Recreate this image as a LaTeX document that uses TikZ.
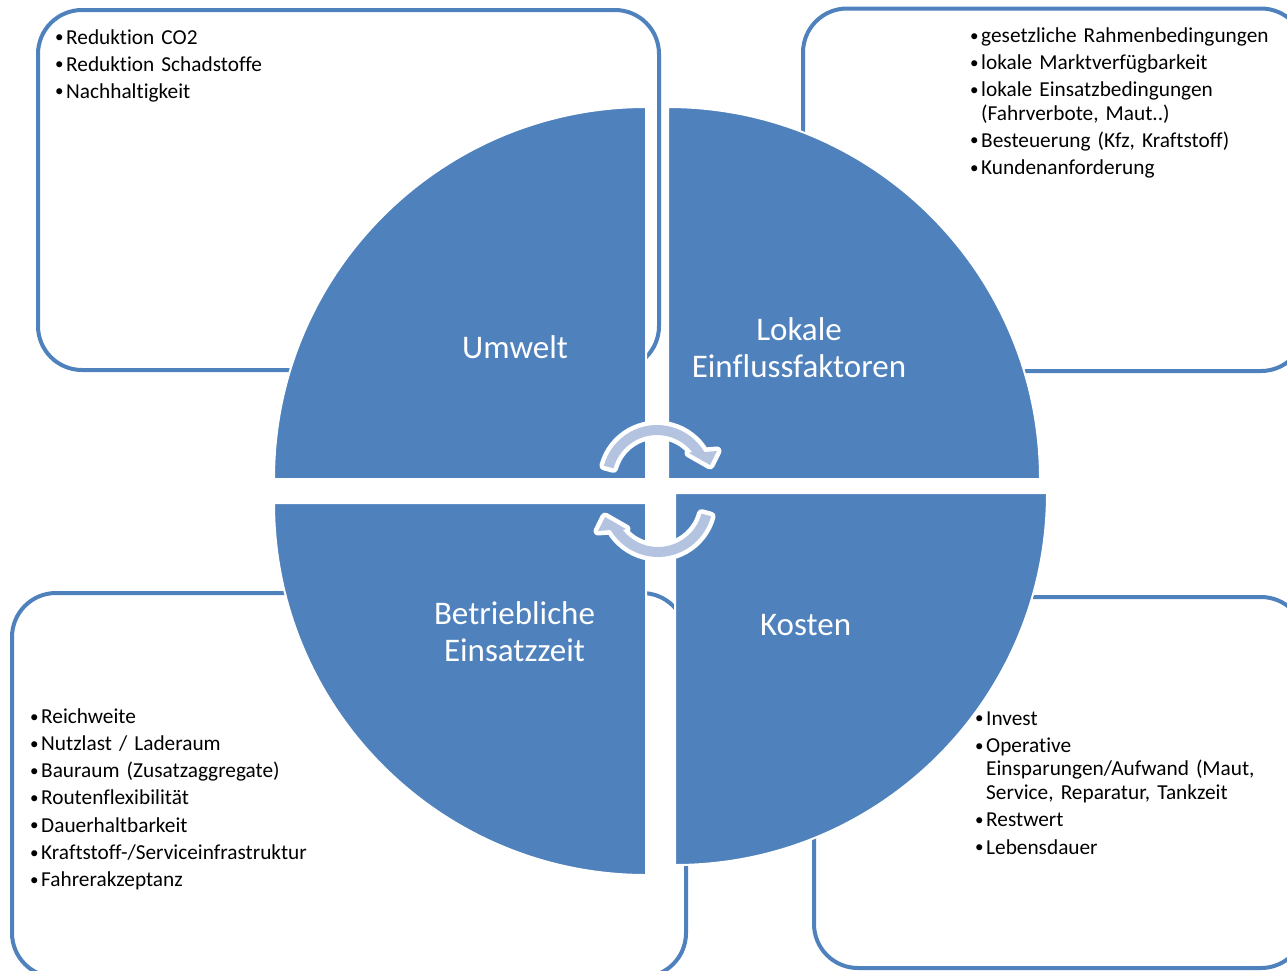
\documentclass[tikz,border=0pt]{standalone}
\usepackage{fontspec}
\setmainfont{Carlito}[Ligatures=NoCommon]
\usetikzlibrary{calc}
\definecolor{qblue}{HTML}{4F81BD}
\definecolor{arrowfill}{HTML}{B3C3E0}
\newcommand\bitem[1]{\makebox[12pt][l]{\hspace{1pt}\raisebox{1.3pt}{\scalebox{0.8}{•}}}#1}
\newcommand\hang{\hspace*{12pt}}
\begin{document}
\begin{tikzpicture}[x=1pt,y=-1pt,
  infobox/.style={draw=qblue,line width=4pt,fill=white,rounded corners=44pt,inner sep=0pt},
  bullets/.style={anchor=base west,inner sep=0pt,text width=420pt,align=left,font=\fontsize{21.3}{23.3}\selectfont},
  quad/.style={fill=qblue,draw=white,line width=2pt},
  qlabel/.style={anchor=base,inner sep=0pt,text width=320pt,align=center,text=white,font=\fontsize{33}{37}\selectfont},
  cyc/.style={fill=arrowfill,preaction={draw=white,line width=9pt,line join=round}}]
\useasboundingbox (0,0) rectangle (1287,970);
\clip (0,0) rectangle (1287,970);
% info boxes
\node[infobox,minimum width=621pt,minimum height=360pt] (boxTL) at (348.5,190) {};
\node[infobox,minimum width=502pt,minimum height=362.5pt] (boxTR) at (1054,189.75) {};
\node[infobox,minimum width=674pt,minimum height=384pt] (boxBL) at (349,785) {};
\node[infobox,minimum width=491pt,minimum height=371pt] (boxBR) at (1059.5,782.5) {};
% bullet texts
\node[bullets] (tTL) at (54,44) {\bitem{Reduktion CO2}\\[3.7pt]\bitem{Reduktion Schadstoffe}\\[3.7pt]\bitem{Nachhaltigkeit}};
\node[bullets] (tTR) at (969,42.3) {\bitem{gesetzliche Rahmenbedingungen}\\[3.9pt]\bitem{lokale Marktverfügbarkeit}\\[3.9pt]\bitem{lokale Einsatzbedingungen}\\\hang(Fahrverbote, Maut..)\\[3.9pt]\bitem{Besteuerung (Kfz, Kraftstoff)}\\[3.9pt]\bitem{Kundenanforderung}};
\node[bullets] (tBL) at (29,723.3) {\bitem{Reichweite}\\[3.9pt]\bitem{Nutzlast / Laderaum}\\[3.9pt]\bitem{Bauraum (Zusatzaggregate)}\\[3.9pt]\bitem{Routenflexibilität}\\[3.9pt]\bitem{Dauerhaltbarkeit}\\[3.9pt]\bitem{Kraftstoff-/Serviceinfrastruktur}\\[3.9pt]\bitem{Fahrerakzeptanz}};
\node[bullets] (tBR) at (974,725) {\bitem{Invest}\\[4.3pt]\bitem{Operative}\\\hang Einsparungen/Aufwand (Maut,\\\hang Service, Reparatur, Tankzeit\\[4.3pt]\bitem{Restwert}\\[3.9pt]\bitem{Lebensdauer}};
% quadrants
\path[quad] (646,479) -- (274,479) arc[start angle=180,end angle=90,radius=372pt] -- cycle;
\path[quad] (668,479) -- (668,107) arc[start angle=90,end angle=0,radius=372pt] -- cycle;
\path[quad] (646,503) -- (646,875) arc[start angle=270,end angle=180,radius=372pt] -- cycle;
\path[quad] (675,493) -- (1047,493) arc[start angle=0,end angle=-90,radius=372pt] -- cycle;
% labels
\node[qlabel] (lUm) at (515,358) {Umwelt};
\node[qlabel] (lLok) at (799,340) {Lokale\\Einflussfaktoren};
\node[qlabel] (lBet) at (514.5,624) {Betriebliche\\Einsatzzeit};
\node[qlabel] (lKos) at (805.6,635) {Kosten};
% circular arrows
\coordinate (c1) at (657,480);
\coordinate (c2) at (658,502);
\path[cyc] ($(c1)+(165:55pt)$) arc[start angle=165,end angle=30.6,radius=55pt]
  -- ($(c1)+(25.8:66.6pt)$) -- ($(c1)+(15.8:55.1pt)$) -- ($(c1)+(40.2:41.9pt)$)
  -- ($(c1)+(38.5:45pt)$) arc[start angle=38.5,end angle=165,radius=45pt] -- cycle;
\path[cyc] ($(c2)+(345:55pt)$) arc[start angle=345,end angle=210.6,radius=55pt]
  -- ($(c2)+(205.8:66.6pt)$) -- ($(c2)+(195.8:55.1pt)$) -- ($(c2)+(220.2:41.9pt)$)
  -- ($(c2)+(218.5:45pt)$) arc[start angle=218.5,end angle=345,radius=45pt] -- cycle;
\end{tikzpicture}
\end{document}
